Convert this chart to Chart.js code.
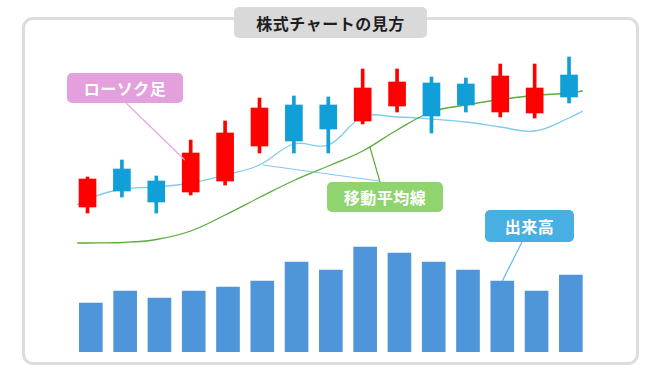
<!DOCTYPE html>
<html lang="ja">
<head>
<meta charset="utf-8">
<script src="https://cdn.jsdelivr.net/npm/chart.js@4/dist/chart.umd.min.js"></script>
<style>
    html, body { margin: 0; padding: 0; background: #fff; }
    #wrap { position: relative; width: 660px; height: 371px; overflow: hidden; }
    #frame {
        position: absolute; left: 22px; top: 17px; width: 611px; height: 342px;
        border: 3px solid #dcdcdc; border-radius: 11px;
    }
    #chart { position: absolute; left: 0; top: 0; }
    .tag {
        position: absolute; display: flex; align-items: center; justify-content: center;
        font-family: "Noto Sans CJK JP", "Noto Sans", sans-serif; font-weight: bold;
        font-size: 16px; line-height: 1; color: #fff; border-radius: 5px;
        letter-spacing: 0.5px;
    }
    #title { color: #1e1e1e; background: #d9d9d9; }
</style>
</head>
<body>
<div id="wrap">
    <div id="frame"></div>
    <canvas id="chart" width="660" height="371"></canvas>
    <div id="title" class="tag" style="left:234px; top:7px; width:193px; height:31px;">株式チャートの見方</div>
</div>
<script>
// ローソク足 (始値・終値・高値・安値)
const opens  = [53, 91, 79, 68, 79, 114, 155, 155, 139, 154, 177, 176, 148, 147, 185];
const closes = [81, 69, 58, 107, 127, 152, 119, 131, 172, 178, 144, 155, 184, 172, 163];
const highs  = [83, 100, 84, 120, 139, 162, 164, 163, 191, 191, 183, 182, 196, 196, 203];
const lows   = [47, 63, 47, 65, 75, 107, 107, 107, 136, 148, 127, 148, 143, 142, 157];

// 出来高
const volumes = [49, 61, 54, 61, 65, 71, 90, 82, 105, 99, 90, 82, 71, 61, 77];

// 移動平均線 (線は最初と最後のローソクより少しはみ出す)
const maPos   = [-0.3, 0, 1, 2, 3, 4, 5, 6, 7, 8, 9, 10, 11, 12, 13, 14, 14.4];
const maShort = [55, 61, 71, 73, 77, 85, 95, 116, 115, 143, 143, 141, 138, 133, 129, 142, 149];
const maLong  = [17, 17, 17.5, 20.5, 29, 45, 62.5, 79.5, 94, 109, 130, 148, 155, 160.5, 164.5, 167, 169];

const RED = '#ff0000';
const BLUE = '#109fd7';
const candleColors = opens.map((o, i) => closes[i] >= o ? RED : BLUE);

// 吹き出し
const callouts = [
    { text: 'ローソク足', box: [67, 73, 116, 30], color: '#e3a0dc', line: '#e8a6e0',
      from: [126, 103], to: { x: 'x', y: 'y', vx: 2.83, vy: 100 } },
    { text: '移動平均線', box: [327, 182, 116, 30], color: '#8fd46f', line: '#7fcbef',
      from: [379, 181], to: { x: 'x', y: 'y', vx: 5.1, vy: 95 } },
    { text: null, line: '#5aac3c',
      from: [380, 182], to: { x: 'x', y: 'y', vx: 8.21, vy: 113 } },
    { text: '出来高', box: [485, 210, 89, 32], color: '#48afe2', line: '#5cb9e8',
      from: [522, 242], to: { x: 'xv', y: 'yv', vx: 12, vy: volumes[12] } }
];

const wrap = document.getElementById('wrap');
callouts.forEach(c => {
    if (!c.text) return;
    const el = document.createElement('div');
    el.className = 'tag';
    el.textContent = c.text;
    el.style.left = c.box[0] + 'px';
    el.style.top = c.box[1] + 'px';
    el.style.width = c.box[2] + 'px';
    el.style.height = c.box[3] + 'px';
    el.style.background = c.color;
    wrap.appendChild(el);
});

const pointerLines = {
    id: 'pointerLines',
    afterDatasetsDraw(chart) {
        const ctx = chart.ctx;
        ctx.save();
        ctx.lineWidth = 1.2;
        callouts.forEach(c => {
            const px = chart.scales[c.to.x].getPixelForValue(c.to.vx);
            const py = chart.scales[c.to.y].getPixelForValue(c.to.vy);
            ctx.strokeStyle = c.line;
            ctx.beginPath();
            ctx.moveTo(c.from[0], c.from[1]);
            ctx.lineTo(px, py);
            ctx.stroke();
        });
        ctx.restore();
    }
};

const ctx = document.getElementById('chart').getContext('2d');
new Chart(ctx, {
    type: 'bar',
    data: {
        datasets: [
            {
                type: 'line',
                data: maPos.map((x, i) => ({ x: x, y: maShort[i] })),
                borderColor: '#7fcbef',
                borderWidth: 1.3,
                pointRadius: 0,
                tension: 0.4,
                xAxisID: 'x', yAxisID: 'y',
                order: 5
            },
            {
                type: 'line',
                data: maPos.map((x, i) => ({ x: x, y: maLong[i] })),
                borderColor: '#5aac3c',
                borderWidth: 1.3,
                pointRadius: 0,
                tension: 0.4,
                xAxisID: 'x', yAxisID: 'y',
                order: 4
            },
            {
                // ヒゲ
                data: lows.map((l, i) => ({ x: i, y: [l, highs[i]] })),
                backgroundColor: candleColors,
                barThickness: 3,
                grouped: false,
                xAxisID: 'x', yAxisID: 'y',
                order: 2
            },
            {
                // 実体
                data: opens.map((o, i) => ({ x: i, y: [o, closes[i]] })),
                backgroundColor: candleColors,
                barThickness: 17,
                grouped: false,
                xAxisID: 'x', yAxisID: 'y',
                order: 1
            },
            {
                data: volumes.map((v, i) => ({ x: i, y: v })),
                backgroundColor: '#4f95d9',
                barThickness: 23,
                grouped: false,
                xAxisID: 'xv', yAxisID: 'yv',
                order: 3
            }
        ]
    },
    options: {
        responsive: false,
        animation: false,
        layout: { padding: { left: 60, right: 60, top: 20, bottom: 19 } },
        plugins: {
            legend: { display: false },
            tooltip: { enabled: false }
        },
        scales: {
            x:  { type: 'linear', min: -0.8, max: 14.9, offset: false, display: false },
            xv: { type: 'linear', min: -0.9, max: 14.85, offset: false, display: false },
            y:  { type: 'linear', min: -92, max: 240, display: false },
            yv: { type: 'linear', min: 0, max: 332, display: false }
        }
    },
    plugins: [pointerLines]
});
</script>
</body>
</html>
